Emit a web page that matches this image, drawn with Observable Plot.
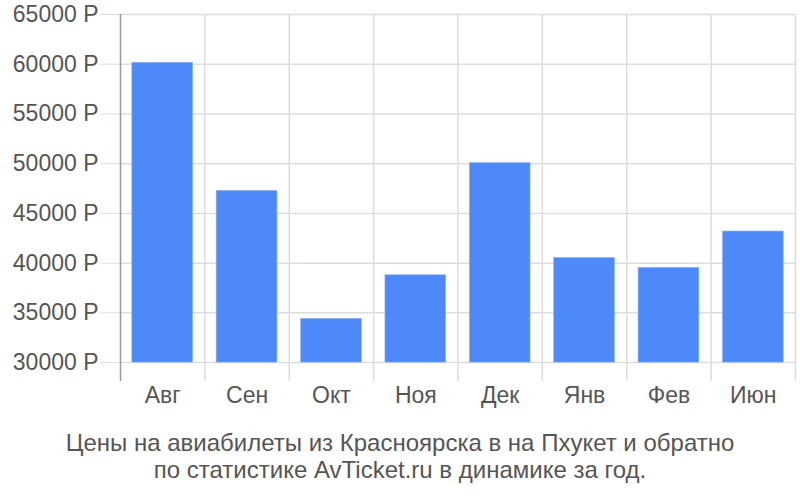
<!DOCTYPE html>
<html><head><meta charset="utf-8">
<script src="https://cdn.jsdelivr.net/npm/d3@7"></script>
<script src="https://cdn.jsdelivr.net/npm/@observablehq/plot@0.6"></script>
<style>
body{margin:0;background:#fff;}
#cap{font-family:"Liberation Sans Narrow","Arial Narrow","Liberation Sans",sans-serif;font-size:24px;color:#555;text-align:center;line-height:27px;margin-top:9px;width:800px;}
</style></head>
<body><div id="chart"></div><div id="cap">Цены на авиабилеты из Красноярска в на Пхукет и обратно<br>по статистике AvTicket.ru в динамике за год.</div>
<script>
const months = ["Авг","Сен","Окт","Ноя","Дек","Янв","Фев","Июн"];
const prices = [60150, 47270, 34400, 38780, 50050, 40530, 39530, 43180];
const yTicks = [30000,35000,40000,45000,50000,55000,60000,65000];
const data = months.map((m,i)=>({i, m, v: prices[i]}));
const bounds = d3.range(months.length+1);

const plot = Plot.plot({
  width: 800, height: 420,
  marginLeft: 120, marginRight: 5, marginTop: 14, marginBottom: 39,
  style: {fontFamily: "'Liberation Sans', Arial, sans-serif", fontSize: "23px", color: "#555", background: "#fff"},
  x: {type: "linear", domain: [0, months.length], axis: null},
  y: {domain: [28100, 65000], axis: null},
  marks: [
    Plot.ruleY(yTicks, {stroke: "#ddd", strokeWidth: 1.5}),
    Plot.ruleX(bounds.slice(1), {stroke: "#ddd", strokeWidth: 1.5}),
    Plot.axisY({ticks: yTicks, label: null, tickSize: 20, tickPadding: 2, stroke: "#ddd", tickFormat: d => d + " Р", fill: "#555", fontSize: 23}),
    Plot.rectY(data, {x1: d => d.i + 0.14, x2: d => d.i + 0.86, y1: 30000, y2: "v", fill: "#4d89f9", stroke: "#8fb3fb", strokeWidth: 0.6}),
    Plot.ruleX([0], {stroke: "#999", strokeWidth: 1.5}),
    Plot.axisX({ticks: bounds.slice(0,-1).map(i => i + 0.5), label: null, tickSize: 0, tickPadding: 5, tickFormat: v => months[Math.floor(v)], fill: "#555", fontSize: 23})
  ]
});
document.getElementById("chart").appendChild(plot);
</script>
</body></html>
